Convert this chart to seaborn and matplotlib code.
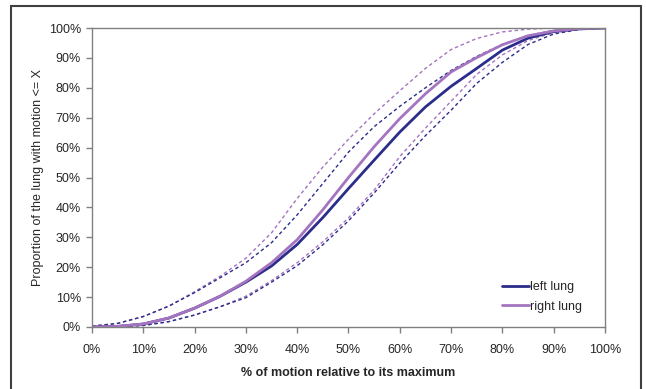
import pandas as pd
import seaborn as sns
import matplotlib
matplotlib.use("Agg")
import matplotlib.pyplot as plt
from matplotlib.patches import Rectangle
from matplotlib.ticker import PercentFormatter

# % of motion relative to its maximum
motion = [0, 5, 10, 15, 20, 25, 30, 35, 40, 45, 50, 55, 60, 65, 70, 75, 80, 85, 90, 95, 100]

# cumulative proportion (%)
left_lung = [0, 0.2, 1, 3, 6.3, 10.3, 15, 20.4, 27.6, 36.6, 46.3, 55.8, 65.2, 73.6, 80.5, 86.5, 92.6, 96.6, 98.8, 99.7, 100]
right_lung = [0, 0.2, 1, 3, 6.3, 10.3, 15.3, 21.5, 29.2, 39.2, 50, 60.3, 69.7, 78, 85.3, 90.1, 94.4, 97.4, 99, 99.8, 100]
left_upper = [0.3, 1.2, 3.5, 7, 11.5, 16.5, 21.5, 28.2, 37.5, 48, 58.5, 67, 73.8, 80, 85.8, 90.5, 94.5, 97.5, 99.2, 99.8, 100]
left_lower = [0, 0.1, 0.5, 1.8, 4, 6.8, 9.8, 15, 20.5, 27.5, 35.5, 44.8, 54.8, 64, 72.5, 81.5, 88.5, 94.5, 98, 99.5, 100]
right_upper = [0.3, 1.2, 3.5, 7, 11.8, 17, 23, 31.5, 43, 53.5, 62.8, 71.3, 79, 86.5, 92.8, 96.5, 98.7, 99.6, 100, 100, 100]
right_lower = [0, 0.1, 0.5, 1.8, 4, 6.8, 10.3, 15.5, 21.5, 28.5, 36.5, 45.8, 57, 66.5, 75.5, 84.5, 91, 95.8, 98.5, 99.7, 100]

navy = "#2B2D8A"
purple = "#A574C0"

sns.set_style("white")
plt.rcParams['font.family'] = ['Liberation Sans', 'DejaVu Sans']

fig = plt.figure(figsize=(6.46, 3.89), dpi=100)
ax = fig.add_axes([0.1424, 0.1594, 0.7941, 0.7686])

# confidence bands (dashed)
for vals, col in [(right_upper, purple), (right_lower, purple),
                  (left_upper, navy), (left_lower, navy)]:
    sns.lineplot(x=motion, y=vals, ax=ax, color=col, linewidth=1.0,
                 legend=False).lines[-1].set_dashes((2.5, 2))

sns.lineplot(x=motion, y=left_lung, ax=ax, color=navy, linewidth=2.0, label="left lung")
sns.lineplot(x=motion, y=right_lung, ax=ax, color=purple, linewidth=2.0, label="right lung")

ax.set_xlim(0, 100)
ax.set_ylim(0, 100)
ax.set_xticks(range(0, 101, 10))
ax.set_yticks(range(0, 101, 10))
ax.xaxis.set_major_formatter(PercentFormatter(decimals=0))
ax.yaxis.set_major_formatter(PercentFormatter(decimals=0))
ax.tick_params(axis='both', direction='out', length=4, width=1, color='#808080',
               labelsize=9, pad=4, bottom=True, left=True)
ax.tick_params(axis='x', pad=8)
for s in ax.spines.values():
    s.set_color('#808080')
    s.set_linewidth(1.0)

ax.set_xlabel("% of motion relative to its maximum", fontsize=9, fontweight='bold', labelpad=8)
ax.set_ylabel("Proportion of the lung with motion <= X", fontsize=9, labelpad=3)

leg = ax.legend(loc='lower right', bbox_to_anchor=(0.978, 0.01), frameon=False,
                fontsize=9, handlelength=2.2, handletextpad=0.1, labelspacing=0.6)

# outer chart border
fig.patches.append(Rectangle((11 / 646, -0.02), 630 / 646, 1 - 6 / 389 + 0.02,
                             transform=fig.transFigure, fill=False,
                             edgecolor='#404040', linewidth=1.5, clip_on=False))

fig.savefig("out.png", dpi=100)
